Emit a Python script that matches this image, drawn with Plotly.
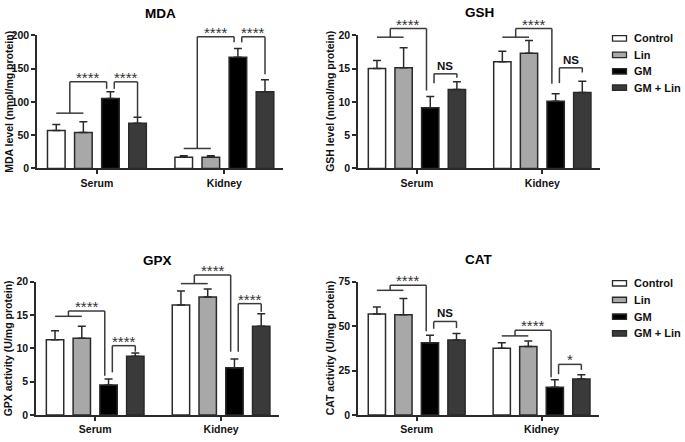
import plotly.graph_objects as go

W, H = 685, 442

groups = ["Serum", "Kidney"]
treatments = ["Control", "Lin", "GM", "GM + Lin"]
bar_colors = ["#ffffff", "#a8a8a8", "#000000", "#3a3a3a"]

# mean values per treatment: [Serum, Kidney]
mda_mean = [[57, 17], [54, 17], [105, 167], [68, 115]]
mda_err = [[9, 2], [16, 2], [10, 13], [9, 18]]
gsh_mean = [[15.0, 16.0], [15.1, 17.3], [9.1, 10.1], [11.85, 11.4]]
gsh_err = [[1.2, 1.6], [3.0, 1.9], [1.7, 1.1], [1.15, 1.7]]
gpx_mean = [[11.3, 16.5], [11.5, 17.7], [4.5, 7.1], [8.8, 13.3]]
gpx_err = [[1.35, 2.1], [1.8, 1.2], [0.9, 1.3], [0.5, 1.9]]
cat_mean = [[56.8, 37.6], [56.4, 38.5], [40.7, 15.7], [42.2, 20.3]]
cat_err = [[4.0, 3.1], [9.1, 3.1], [4.2, 4.2], [3.6, 2.3]]

# significance brackets: (group index, base y, top y, end y, label)
# "vs controls": Control+Lin (combined) vs GM ; "vs GM": GM vs GM + Lin
mda_vs_controls = [(0, 83, 130, 119.5, "****"), (1, 30, 197.6, 189.3, "****")]
mda_vs_gm = [(0, 119.5, 130, 76.6, "****"), (1, 189.3, 197.6, 141.5, "****")]
gsh_vs_controls = [(0, 19.7, 21.0, 11.7, "****"), (1, 19.7, 21.0, 12.7, "****")]
gsh_vs_gm = [(0, 12.8, 14.2, 13.6, "NS"), (1, 12.8, 15.1, 14.4, "NS")]
gpx_vs_controls = [(0, 14.8, 15.6, 5.9, "****"), (1, 19.7, 21.0, 9.5, "****")]
gpx_vs_gm = [(0, 6.4, 10.4, 9.5, "****"), (1, 9.5, 16.7, 15.5, "****")]
cat_vs_controls = [(0, 70.1, 73.0, 47.1, "****"), (1, 44.5, 47.6, 21.2, "****")]
cat_vs_gm = [(0, 48.5, 52.6, 48.9, "NS"), (1, 23.0, 28.5, 25.4, "*")]

# y-axis ticks
mda_ticks = [0, 50, 100, 150, 200]
gsh_ticks = [0, 5, 10, 15, 20]
gpx_ticks = [0, 5, 10, 15, 20]
cat_ticks = [0, 25, 50, 75]

panels = [
    dict(title="MDA", ytitle="MDA level (nmol/mg protein)", mean=mda_mean, err=mda_err,
         ticks=mda_ticks, b1=mda_vs_controls, b2=mda_vs_gm,
         px=(37, 283), py=(30, 167), ty=8),
    dict(title="GSH", ytitle="GSH level (nmol/mg protein)", mean=gsh_mean, err=gsh_err,
         ticks=gsh_ticks, b1=gsh_vs_controls, b2=gsh_vs_gm,
         px=(358, 600), py=(30, 167), ty=7),
    dict(title="GPX", ytitle="GPX activity (U/mg protein)", mean=gpx_mean, err=gpx_err,
         ticks=gpx_ticks, b1=gpx_vs_controls, b2=gpx_vs_gm,
         px=(36, 279), py=(283.3, 420.5), ty=262),
    dict(title="CAT", ytitle="CAT activity (U/mg protein)", mean=cat_mean, err=cat_err,
         ticks=cat_ticks, b1=cat_vs_controls, b2=cat_vs_gm,
         px=(358, 599), py=(283.3, 420.5), ty=261),
]

FONT = "Arial, 'Liberation Sans', sans-serif"
LINE = "#2a2a2a"
BR = "#3a3a3a"
XR = (-0.47, 1.46)
BARGAP = 0.15
SLOT = (1 - BARGAP) / 4

fig = go.Figure()
shapes = []
annotations = []


def bar_center(g, t):
    return g + (t - 1.5) * SLOT


for k, p in enumerate(panels):
    sfx = "" if k == 0 else str(k + 1)
    xa, ya = "x" + sfx, "y" + sfx
    ymax = p["ticks"][-1]
    for t, name in enumerate(treatments):
        fig.add_trace(go.Bar(
            x=groups, y=p["mean"][t], name=name, xaxis=xa, yaxis=ya,
            marker=dict(color=bar_colors[t], line=dict(color=LINE, width=1.5)),
            error_y=dict(type="data", array=p["err"][t], arrayminus=[0, 0],
                         symmetric=False, color=LINE, thickness=1.5, width=4),
            showlegend=False, hoverinfo="skip",
        ))
    dom_x = [p["px"][0] / W, p["px"][1] / W]
    dom_y = [1 - p["py"][1] / H, 1 - p["py"][0] / H]
    fig.update_layout(**{
        ("xaxis" + sfx): dict(domain=dom_x, anchor=ya, range=list(XR), type="category",
                              categoryorder="array", categoryarray=groups,
                              showline=True, linecolor=LINE, linewidth=1.5,
                              ticks="outside", ticklen=4, tickwidth=1.5, tickcolor=LINE,
                              tickfont=dict(family=FONT, size=10.5, color="#111", weight="bold"),
                              showgrid=False, zeroline=False, fixedrange=True),
        ("yaxis" + sfx): dict(domain=dom_y, anchor=xa, range=[0, ymax],
                              tickvals=p["ticks"], ticktext=[str(v) for v in p["ticks"]],
                              showline=True, linecolor=LINE, linewidth=1.5,
                              ticks="outside", ticklen=4, tickwidth=1.5, tickcolor=LINE,
                              tickfont=dict(family=FONT, size=10.5, color="#111", weight="bold"),
                              showgrid=False, zeroline=False, fixedrange=True),
    })

    def xd(v):
        return (v - XR[0]) / (XR[1] - XR[0])

    def yd(v):
        return v / ymax

    def seg(x0, y0, x1, y1):
        shapes.append(dict(type="line", xref=xa + " domain", yref=ya + " domain",
                           x0=xd(x0), y0=yd(y0), x1=xd(x1), y1=yd(y1),
                           line=dict(color=BR, width=1.5)))

    def label(xc, ytop, text):
        is_star = "*" in text
        annotations.append(dict(
            xref=xa + " domain", yref=ya + " domain", x=xd(xc), y=yd(ytop),
            text=text, showarrow=False, xanchor="center", yanchor="bottom",
            yshift=-6 if is_star else 0,
            font=dict(family=FONT, size=15 if is_star else 11.5,
                      color="#333" if is_star else "#111",
                      weight="normal" if is_star else "bold")))

    for (g, base, top, end, txt) in p["b1"]:
        c0, c1 = bar_center(g, 0), bar_center(g, 1)
        mid = (c0 + c1) / 2
        right = bar_center(g, 2) - 0.03
        seg(c0, base, c1, base)
        seg(mid, base, mid, top)
        seg(mid, top, right, top)
        seg(right, top, right, end)
        label((mid + right) / 2, top, txt)
    for (g, base, top, end, txt) in p["b2"]:
        left = bar_center(g, 2) + 0.03
        right = bar_center(g, 3)
        seg(left, base, left, top)
        seg(left, top, right, top)
        seg(right, top, right, end)
        label((left + right) / 2, top, txt)

    # panel title
    annotations.append(dict(xref="paper", yref="paper", x=(dom_x[0] + dom_x[1]) / 2,
                            y=1 - p["ty"] / H, text=p["title"], showarrow=False,
                            xanchor="center", yanchor="middle",
                            font=dict(family=FONT, size=13.5, color="#000", weight="bold")))
    # y-axis title
    annotations.append(dict(xref="paper", yref="paper", x=dom_x[0], xshift=-28,
                            y=(dom_y[0] + dom_y[1]) / 2, text=p["ytitle"], showarrow=False,
                            textangle=-90, xanchor="center", yanchor="middle",
                            font=dict(family=FONT, size=10.5, color="#111", weight="bold")))

# custom legends (one per row)
legend_rows = [(33.3, 16.9), (285, 17.2)]
for (y0, dy) in legend_rows:
    for t, name in enumerate(treatments):
        yc = y0 + t * dy
        shapes.append(dict(type="rect", xref="paper", yref="paper",
                           x0=612.5 / W, x1=626.5 / W, y0=1 - (yc + 2.8) / H, y1=1 - (yc - 2.8) / H,
                           fillcolor=bar_colors[t], line=dict(color=LINE, width=1.3)))
        annotations.append(dict(xref="paper", yref="paper", x=632 / W, y=1 - yc / H,
                                text=name, showarrow=False, xanchor="left", yanchor="middle",
                                font=dict(family=FONT, size=11, color="#111", weight="bold")))

fig.update_layout(
    width=W, height=H, margin=dict(l=0, r=0, t=0, b=0),
    paper_bgcolor="white", plot_bgcolor="white",
    barmode="group", bargap=BARGAP, bargroupgap=0.35,
    shapes=shapes, annotations=annotations, showlegend=False,
    font=dict(family=FONT),
)

fig.write_html("out.html", config={"displayModeBar": False},
               post_script="document.body.style.margin='0';document.body.style.overflow='hidden';")
